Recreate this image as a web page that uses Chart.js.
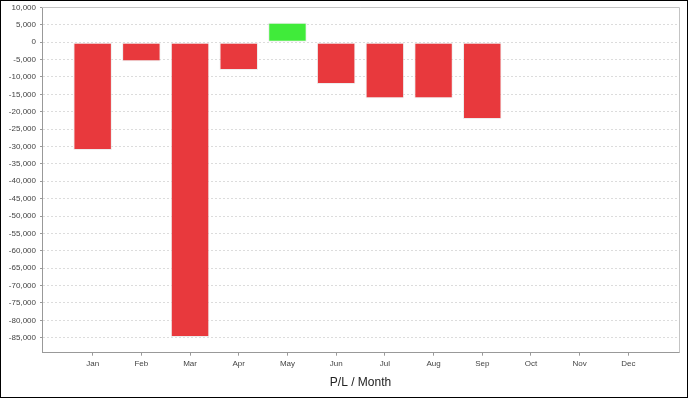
<!DOCTYPE html>
<html>
<head>
<meta charset="utf-8">
<script src="https://cdn.jsdelivr.net/npm/chart.js@4/dist/chart.umd.min.js"></script>
<style>
html,body{margin:0;padding:0;background:#fff;}
#box{position:absolute;left:0;top:0;width:688px;height:398px;border:1px solid #000;box-sizing:border-box;}
</style>
</head>
<body>
<div id="box"><canvas id="pl"></canvas></div>
<script>
// P/L per month
const months = ["Jan","Feb","Mar","Apr","May","Jun","Jul","Aug","Sep","Oct","Nov","Dec"];
const pl = [-31000, -5500, -84800, -8000, 5600, -12000, -16100, -16100, -22100];
const yTicks = [10000,5000,0,-5000,-10000,-15000,-20000,-25000,-30000,-35000,-40000,-45000,
  -50000,-55000,-60000,-65000,-70000,-75000,-80000,-85000];

const RED = "#e8393d";
const GREEN = "#40eb3a";

// top + right edge of the plot frame
const frame = {
  id: "frame",
  afterDraw(chart) {
    const a = chart.chartArea, c = chart.ctx;
    c.save();
    c.strokeStyle = "#c4c4c4";
    c.lineWidth = 1;
    c.beginPath();
    c.moveTo(a.left, Math.round(a.top) + 0.5);
    c.lineTo(Math.round(a.right) + 0.5, Math.round(a.top) + 0.5);
    c.lineTo(Math.round(a.right) + 0.5, a.bottom);
    c.stroke();
    c.restore();
  }
};

new Chart(document.getElementById("pl"), {
  type: "bar",
  data: {
    datasets: [{
      data: pl.map((v, i) => ({x: i, y: v})),
      backgroundColor: pl.map(v => v >= 0 ? GREEN : RED),
      borderColor: "rgba(225,225,225,0.6)",
      borderWidth: 1,
      borderSkipped: false,
      categoryPercentage: 1,
      barPercentage: 0.79
    }]
  },
  options: {
    responsive: true,
    maintainAspectRatio: false,
    devicePixelRatio: 1,
    animation: false,
    layout: {padding: {left: 0, right: 8, top: 6, bottom: 0}},
    plugins: {legend: {display: false}, tooltip: {enabled: false}},
    scales: {
      x: {
        type: "linear",
        offset: false,
        min: -1.04,
        max: 12.04,
        afterBuildTicks: s => { s.ticks = months.map((m, i) => ({value: i})); },
        afterFit: s => { s.height = 44.3; s.paddingLeft = 0; s.paddingRight = 0; },
        grid: {offset: false, drawOnChartArea: false, tickLength: 3, tickColor: "#999"},
        border: {color: "#999"},
        ticks: {
          padding: 3,
          color: "#444",
          font: {family: "Liberation Sans", size: 8},
          maxRotation: 0,
          autoSkip: false,
          callback: v => months[v]
        },
        title: {
          display: true,
          text: "P/L / Month",
          color: "#222",
          font: {family: "Liberation Sans", size: 12},
          padding: {top: 0, bottom: 6.8}
        }
      },
      y: {
        min: -89320,
        max: 10120,
        afterBuildTicks: s => { s.ticks = yTicks.map(v => ({value: v})); },
        afterFit: s => { s.width = 41; s.paddingTop = 0; s.paddingBottom = 0; },
        grid: {color: "#dcdcdc", tickLength: 2, tickColor: "#999"},
        border: {color: "#999", dash: [2, 2]},
        ticks: {
          padding: 4,
          color: "#444",
          font: {family: "Liberation Sans", size: 8},
          callback: v => v.toLocaleString("en-US")
        }
      }
    }
  },
  plugins: [frame]
});
</script>
</body>
</html>
